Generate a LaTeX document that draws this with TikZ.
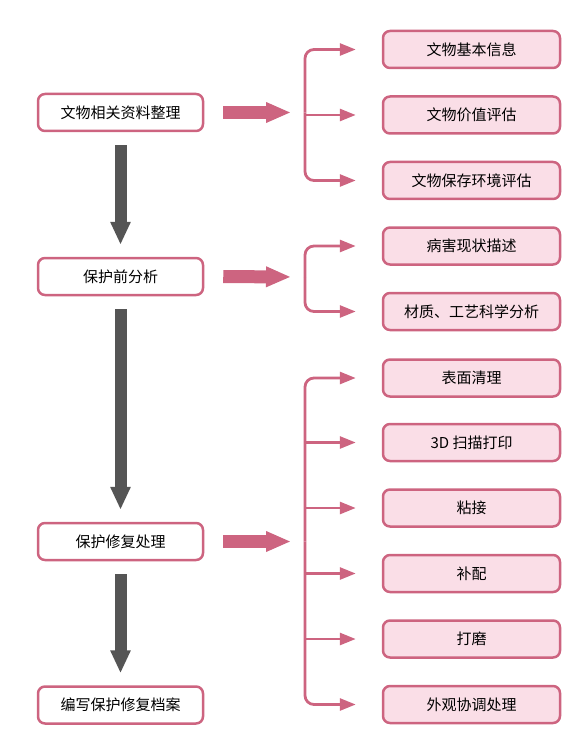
\documentclass[tikz,border=0pt]{standalone}
\usepackage{fontspec}
\setmainfont{Noto Sans CJK SC}
\usepackage{tikz}
\usetikzlibrary{arrows.meta,positioning}
\definecolor{rosePink}{RGB}{205,100,128}
\definecolor{roseFill}{RGB}{250,222,231}
\definecolor{flowGray}{RGB}{85,85,85}
\tikzset{
  mainbox/.style={rectangle, rounded corners=7pt, draw=rosePink, line width=2.5pt,
                  fill=white, minimum width=165pt, minimum height=37pt, inner sep=0pt,
                  font=\fontsize{15}{18}\selectfont},
  subbox/.style={rectangle, rounded corners=7pt, draw=rosePink, line width=2.5pt,
                 fill=roseFill, minimum width=177pt, minimum height=37pt, inner sep=0pt,
                 font=\fontsize{15}{18}\selectfont},
  downflow/.style={-{Triangle[length=23pt,width=19pt]}, line width=12pt, flowGray,
                   shorten <=13pt, shorten >=12pt},
  rightflow/.style={-{Triangle[length=25pt,width=19pt]}, line width=13pt, rosePink,
                    shorten <=19pt, shorten >=14pt},
  branch/.style={-{Triangle[length=16pt,width=12pt]}, line width=2.8pt, rosePink,
                 rounded corners=9pt, shorten >=26pt},
}

\begin{document}
\begin{tikzpicture}[x=1pt,y=-1pt]
  \useasboundingbox (0,0) rectangle (584,735);

  % main steps
  \node[mainbox] (m1) at (120.5,112.5) {文物相关资料整理};
  \node[mainbox] (m2) at (120.5,276.5) {保护前分析};
  \node[mainbox] (m3) at (120.5,541.5) {保护修复处理};
  \node[mainbox] (m4) at (120.5,705) {编写保护修复档案};

  \draw[downflow] (m1.south) -- (m2.north);
  \draw[downflow] (m2.south) -- (m3.north);
  \draw[downflow] (m3.south) -- (m4.north);

  % sub items
  \foreach \n/\y/\lbl in {
      r1/49.5/文物基本信息, r2/115/文物价值评估, r3/180.5/文物保存环境评估,
      r4/246/病害现状描述, r5/311.5/材质、工艺科学分析,
      r6/378/表面清理, r7/442.5/3D 扫描打印, r8/508/粘接,
      r9/573.5/补配, r10/639/打磨, r11/704.5/外观协调处理}{
    \node[subbox] (\n) at (471.5,\y) {\lbl};
  }

  % brackets
  \coordinate (s1) at (305,112.5);
  \coordinate (s2) at (305,277);
  \coordinate (s3) at (305,541.5);

  \draw[rightflow] (m1.east) -- (s1);
  \draw[rightflow] (m2.east) -- (s2);
  \draw[rightflow] (m3.east) -- (s3);

  \draw[branch] (s1) |- (r1.west);
  \draw[branch] (s1 |- r2.west) -- (r2.west);
  \draw[branch] (s1) |- (r3.west);

  \draw[branch] (s2) |- (r4.west);
  \draw[branch] (s2) |- (r5.west);

  \draw[branch] (s3) |- (r6.west);
  \foreach \n in {r7,r8,r9,r10}
    \draw[branch] (s3 |- \n.west) -- (\n.west);
  \draw[branch] (s3) |- (r11.west);
\end{tikzpicture}
\end{document}
